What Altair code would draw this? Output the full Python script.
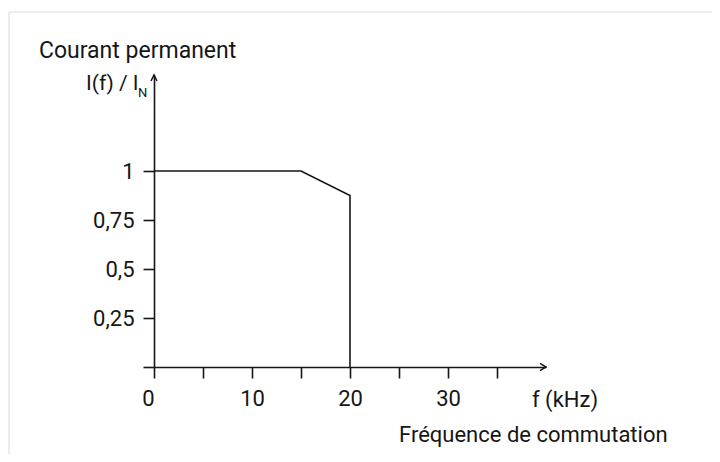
import altair as alt
import pandas as pd

# ---- data ----
freq_khz = [0, 15, 20, 20]
current_ratio = [1.0, 1.0, 0.875, 0.0]
point_order = [0, 1, 2, 3]

x_tick_values = [0, 5, 10, 15, 20, 25, 30, 35]
x_labelled = [0, 10, 20, 30]
y_tick_values = [0, 0.25, 0.5, 0.75, 1]

y_title = "Courant permanent"
y_unit_main = "I(f) / I"
y_unit_sub = "N"
x_unit = "f (kHz)"
x_title = "Fréquence de commutation"

df = pd.DataFrame({"f": freq_khz, "i": current_ratio, "o": point_order})

INK = "#161616"
FONT = "Roboto"
W, H = 392, 292

x_scale = alt.Scale(domain=[0, 40], nice=False, zero=False)
y_scale = alt.Scale(domain=[0, 1.49], nice=False, zero=False)

x_label_expr = "indexof([" + ",".join(str(v) for v in x_labelled) + "], datum.value) >= 0 ? datum.label : ''"

line = alt.Chart(df).mark_line(color=INK, strokeWidth=1.6, clip=False).encode(
    x=alt.X("f:Q", scale=x_scale,
            axis=alt.Axis(values=x_tick_values, title=None, grid=False,
                          domainColor=INK, domainWidth=1.6,
                          tickColor=INK, tickWidth=1.6, tickSize=11,
                          labelExpr=x_label_expr,
                          labelAlign=alt.condition("datum.value == 0", alt.value("right"), alt.value("center")),
                          labelFont=FONT, labelFontSize=22, labelColor=INK,
                          labelPadding=10, labelFlush=False, labelOverlap=False)),
    y=alt.Y("i:Q", scale=y_scale,
            axis=alt.Axis(values=y_tick_values, title=None, grid=False,
                          domainColor=INK, domainWidth=1.6,
                          tickColor=INK, tickWidth=1.6, tickSize=11,
                          labelExpr="datum.value == 0 ? '' : replace(format(datum.value, ''), '.', ',')",
                          labelFont=FONT, labelFontSize=22, labelColor=INK,
                          labelPadding=9, labelFlush=False, labelOverlap=False)),
    order="o:Q",
)

# arrow heads at the ends of the two axis lines
arrow_up = alt.Chart(df.head(1)).mark_point(
    shape="M-0.5,1L0,0L0.5,1", filled=False, stroke=INK, strokeWidth=1.5, size=144, opacity=1
).encode(x=alt.value(0), y=alt.value(0))
arrow_right = alt.Chart(df.head(1)).mark_point(
    shape="M-1,-0.6L0,0L-1,0.6", filled=False, stroke=INK, strokeWidth=1.5, size=144, opacity=1
).encode(x=alt.value(W), y=alt.value(H))

def label(text, x, y, size, align="left"):
    return alt.Chart(pd.DataFrame({"t": [text]})).mark_text(
        font=FONT, fontSize=size, color=INK, align=align, baseline="alphabetic"
    ).encode(text="t:N", x=alt.value(x), y=alt.value(y))

t1 = label(y_title, -115, -17, 23)
t2 = label(y_unit_main, -68, 15, 21)
t3 = label(y_unit_sub, -16, 22, 13)
t4 = label(x_unit, 378, 332, 22)
t5 = label(x_title, 245, 367, 22)

border_top = alt.Chart(df.head(1)).mark_rule(color="#ececec", strokeWidth=2).encode(
    x=alt.value(-145), x2=alt.value(566), y=alt.value(-63))
border_left = alt.Chart(df.head(1)).mark_rule(color="#ececec", strokeWidth=2).encode(
    x=alt.value(-145), y=alt.value(-63), y2=alt.value(390))

chart = alt.layer(
    border_top, border_left, line, arrow_up, arrow_right, t1, t2, t3, t4, t5
).properties(
    width=W, height=H,
    background="white",
    autosize=alt.AutoSizeParams(type="none"),
    padding={"left": 146, "top": 67, "right": 166, "bottom": 87},
).configure_view(strokeWidth=0, stroke=None)

chart.save("out.html", embed_options={"renderer": "svg", "actions": False})
